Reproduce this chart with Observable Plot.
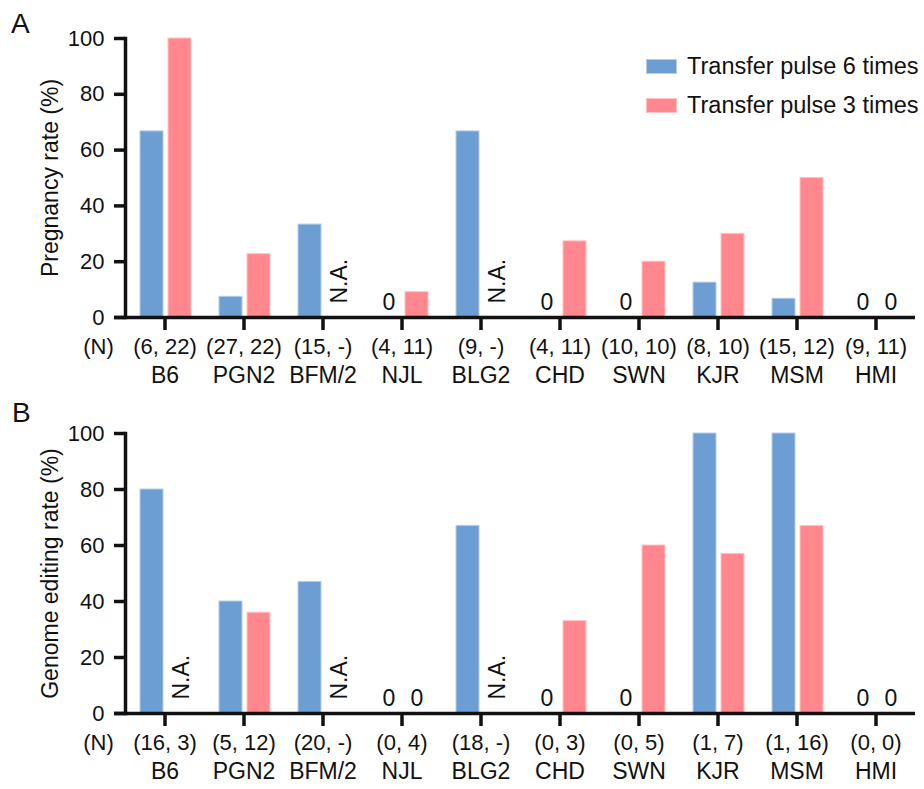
<!DOCTYPE html>
<html>
<head>
<meta charset="utf-8">
<script src="https://cdn.jsdelivr.net/npm/d3@7"></script>
<script src="https://cdn.jsdelivr.net/npm/@observablehq/plot@0.6"></script>
<style>
  html, body { margin: 0; padding: 0; background: #fff; }
  #root { position: relative; width: 924px; height: 789px; font-family: "Liberation Sans", Arial, sans-serif; color: #111; }
  .panel-letter { position: absolute; font-size: 28px; line-height: 1; }
  .legend { position: absolute; left: 646px; top: 51px; font-size: 23.5px; white-space: nowrap; }
  .legend .item { display: flex; align-items: center; height: 31px; margin-bottom: 8px; }
  .legend .sw { width: 31px; height: 15px; margin-right: 10px; box-sizing: border-box; }
  svg { display: block; }
</style>
</head>
<body>
<div id="root">
  <div id="panelA"></div>
  <div id="panelB"></div>
</div>
<script>
const categories = ["B6", "PGN2", "BFM/2", "NJL", "BLG2", "CHD", "SWN", "KJR", "MSM", "HMI"];
const seriesNames = ["Transfer pulse 6 times", "Transfer pulse 3 times"];
const seriesColors = ["#6c9ed3", "#ff878d"];
const seriesEdges = ["#b3cdea", "#ffc3c6"];
const yTicks = [0, 20, 40, 60, 80, 100];

// Panel A: pregnancy rate (%), null = N.A.
const pregnancy6 = [66.7, 7.4, 33.3, 0, 66.7, 0, 0, 12.5, 6.7, 0];
const pregnancy3 = [100, 22.7, null, 9.1, null, 27.3, 20, 30, 50, 0];
const nLabelsA = ["(6, 22)", "(27, 22)", "(15, -)", "(4, 11)", "(9, -)", "(4, 11)", "(10, 10)", "(8, 10)", "(15, 12)", "(9, 11)"];

// Panel B: genome editing rate (%), null = N.A.
const editing6 = [80, 40, 47, 0, 67, 0, 0, 100, 100, 0];
const editing3 = [null, 36, null, 0, null, 33, 60, 57, 67, 0];
const nLabelsB = ["(16, 3)", "(5, 12)", "(20, -)", "(0, 4)", "(18, -)", "(0, 3)", "(0, 5)", "(1, 7)", "(1, 16)", "(0, 0)"];

const FONT = "Liberation Sans, Arial, sans-serif";

function rows(values) {
  return categories.map((c, i) => ({cat: c, v: values[i]}));
}

function panel(values6, values3, nLabels, yLabel, height, marginBottom) {
  const r6 = rows(values6), r3 = rows(values3);
  const seriesRows = [r6, r3];
  const insets = [{insetLeft: 15, insetRight: 41}, {insetLeft: 43, insetRight: 13}];
  const dxs = [-13, 15];
  const marks = [];
  seriesRows.forEach((rs, s) => {
    marks.push(Plot.barY(rs.filter(d => d.v != null && d.v > 0), {
      x: "cat", y: "v", fill: seriesColors[s], stroke: seriesEdges[s], strokeWidth: 1,
      ...insets[s]
    }));
    marks.push(Plot.text(rs.filter(d => d.v === 0), {
      x: "cat", y: () => 0, text: () => "0", dx: dxs[s], dy: -8,
      lineAnchor: "bottom", fontSize: 23, fill: "#111"
    }));
    marks.push(Plot.text(rs.filter(d => d.v == null), {
      x: "cat", y: () => 0, text: () => "N.A.", rotate: -90, textAnchor: "start",
      lineAnchor: "middle", dx: dxs[s] + 2, dy: -14, fontSize: 23, fill: "#111"
    }));
  });
  marks.push(Plot.ruleY([0], {stroke: "#111", strokeWidth: 3.5, insetLeft: -11}));
  marks.push(Plot.frame({anchor: "left", stroke: "#111", strokeWidth: 3.5}));
  marks.push(Plot.axisY({ticks: yTicks, tickSize: 11, tickPadding: 10, strokeWidth: 3.5, stroke: "#111", fontSize: 22, fill: "#111", label: null}));
  marks.push(Plot.axisX({tickSize: 13, strokeWidth: 3.5, stroke: "#111", tickFormat: () => "", label: null}));
  marks.push(Plot.text(categories, {x: d => d, text: (d, i) => nLabels[i], frameAnchor: "bottom", dy: 36, fontSize: 22, fill: "#111"}));
  marks.push(Plot.text(categories, {x: d => d, text: d => d, frameAnchor: "bottom", dy: 65, fontSize: 23, fill: "#111"}));
  marks.push(Plot.text(["(N)"], {frameAnchor: "bottom-left", text: d => d, dx: -27, dy: 36, textAnchor: "middle", fontSize: 22, fill: "#111"}));
  marks.push(Plot.text([yLabel], {frameAnchor: "left", text: d => d, rotate: -90, textAnchor: "middle", dx: -75, fontSize: 23, fill: "#111"}));
  return Plot.plot({
    width: 924,
    height,
    marginLeft: 125,
    marginRight: 9,
    marginTop: 38,
    marginBottom,
    style: {fontFamily: FONT, fontSize: "22px", color: "#111", background: "white", overflow: "visible"},
    x: {type: "band", domain: categories, padding: 0, axis: null},
    y: {domain: [0, 100], axis: null},
    marks
  });
}

document.getElementById("panelA").appendChild(panel(pregnancy6, pregnancy3, nLabelsA, "Pregnancy rate (%)", 395, 78));
document.getElementById("panelB").appendChild(panel(editing6, editing3, nLabelsB, "Genome editing rate (%)", 394, 76));

const root = document.getElementById("root");
[["A", 11, 10], ["B", 12, 399]].forEach(([t, x, y]) => {
  const el = document.createElement("div");
  el.className = "panel-letter";
  el.textContent = t;
  el.style.left = x + "px";
  el.style.top = y + "px";
  root.appendChild(el);
});
const legend = document.createElement("div");
legend.className = "legend";
seriesNames.forEach((name, s) => {
  const item = document.createElement("div");
  item.className = "item";
  const sw = document.createElement("div");
  sw.className = "sw";
  sw.style.background = seriesColors[s];
  sw.style.border = "1px solid " + seriesEdges[s];
  const label = document.createElement("span");
  label.textContent = name;
  item.appendChild(sw);
  item.appendChild(label);
  legend.appendChild(item);
});
root.appendChild(legend);
</script>
</body>
</html>
